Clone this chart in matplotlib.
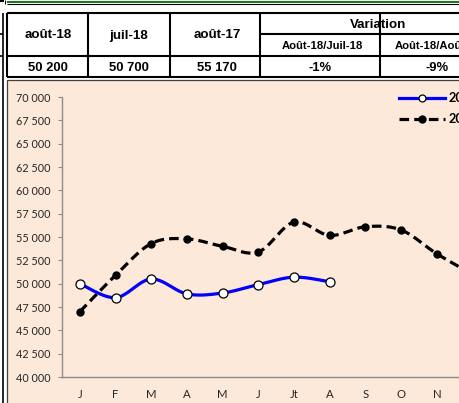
import numpy as np
import matplotlib
matplotlib.use("Agg")
import matplotlib.pyplot as plt
from matplotlib.lines import Line2D
from matplotlib.patches import Rectangle
from matplotlib.ticker import FuncFormatter, MultipleLocator

# Data
months = ['J', 'F', 'M', 'A', 'M', 'J', 'Jt', 'A', 'S', 'O', 'N', 'D']
v2018 = [50000, 48500, 50500, 48900, 49000, 49900, 50700, 50200]
v2017 = [47000, 50900, 54300, 54800, 54000, 53400, 56600, 55170, 56100, 55750, 53200, 51000]
labels = ['2018', '2017']

head_cols = ['août-18', 'juil-18', 'août-17']
head_var = 'Variation'
head_sub = ['Août-18/Juil-18', 'Août-18/Août-17']
row_vals = ['50 200', '50 700', '55 170', '-1%', '-9%']

W, H = 460, 403
fig = plt.figure(figsize=(W / 100, H / 100), dpi=100)
fig.patch.set_facecolor('white')


def px(x, y):
    # pixel position (from top-left) -> figure fraction
    return x / W, 1 - y / H


def hline(x0, x1, y, lw=1.5, color='black'):
    a, b = px(x0, y)
    c, _ = px(x1, y)
    fig.add_artist(Line2D([a, c], [b, b], lw=lw, color=color, transform=fig.transFigure,
                          solid_capstyle='butt'))


def vline(x, y0, y1, lw=1.5, color='black'):
    a, b = px(x, y0)
    _, d = px(x, y1)
    fig.add_artist(Line2D([a, a], [b, d], lw=lw, color=color, transform=fig.transFigure,
                          solid_capstyle='butt'))


# top band
hline(7, 470, 1.5, lw=1.3, color='#0a6a0a')
hline(7, 470, 3.5, lw=0.8)
hline(0, 4, 1, lw=1.5)
vline(5, 0, 4, lw=0.8)

# table grid
cols_x = [7, 88, 170, 260, 380]
hline(7, 470, 13)
hline(7, 470, 56)
hline(7, 470, 77)
hline(260, 470, 34)
for cx in cols_x:
    vline(cx, 13, 77)
vline(3, 13, 403, lw=1.2)
hline(0, 3, 34, lw=1.2)
hline(0, 3, 56, lw=1.2)

tfont = dict(family=['Liberation Sans', 'DejaVu Sans'], weight='bold', color='black')
centers = [48, 129, 217]
for cx, t in zip(centers, head_cols):
    fig.text(*px(cx, 38.5), t, ha='center', va='baseline', fontsize=9.6, **tfont)
fig.text(*px(378, 27.5), head_var, ha='center', va='baseline', fontsize=9.6, **tfont)
fig.text(*px(322, 49), head_sub[0], ha='center', va='baseline', fontsize=8.1, **tfont)
fig.text(*px(438, 49), head_sub[1], ha='center', va='baseline', fontsize=8.1, **tfont)
for cx, t in zip(centers + [320, 437], row_vals):
    fig.text(*px(cx, 71), t, ha='center', va='baseline', fontsize=9.4, **tfont)

# chart box
bx, by = px(7.5, 80.5)
fig.add_artist(Rectangle((bx, -0.05), 1.1, by + 0.05, transform=fig.transFigure,
                         facecolor='#FDE9D9', edgecolor='#404040', lw=0.9, zorder=-5))

# plot area
l, t = px(62, 97)
r, b = px(62 + 12 * 35.7, 377)
ax = fig.add_axes([l, b, r - l, t - b])
ax.set_facecolor('none')


def smooth(xs, ys, n=24):
    # Excel-like smoothed line (cubic Bezier through the points)
    P = np.column_stack([xs, ys]).astype(float)
    out = []
    for i in range(len(P) - 1):
        p0 = P[i - 1] if i > 0 else P[i]
        p1, p2 = P[i], P[i + 1]
        p3 = P[i + 2] if i + 2 < len(P) else P[i + 1]
        c1 = p1 + (p2 - p0) / 6
        c2 = p2 - (p3 - p1) / 6
        s = np.linspace(0, 1, n)[:, None]
        seg = (1 - s) ** 3 * p1 + 3 * (1 - s) ** 2 * s * c1 + 3 * (1 - s) * s ** 2 * c2 + s ** 3 * p2
        out.append(seg if i == 0 else seg[1:])
    out = np.vstack(out)
    return out[:, 0], out[:, 1]


x18 = np.arange(len(v2018))
x17 = np.arange(len(v2017))

sx, sy = smooth(x17, v2017)
ax.plot(sx, sy, color='black', lw=2.3, dashes=(3.0, 1.6), zorder=2)
ax.plot(x17, v2017, 'o', color='black', ms=5, zorder=3)
sx, sy = smooth(x18, v2018)
ax.plot(sx, sy, color='#0000FF', lw=2.3, zorder=4)
ax.plot(x18, v2018, 'o', mfc='white', mec='black', mew=0.9, ms=6.5, zorder=5)

h18 = Line2D([], [], color='#0000FF', lw=2.3, marker='o', mfc='white', mec='black', mew=0.9, ms=5)
h17 = Line2D([], [], color='black', lw=2.3, dashes=(3.0, 1.6), marker='o', mfc='black', ms=5)
fig.legend([h18, h17], labels, loc='upper left', bbox_to_anchor=px(399, 92), frameon=False,
           handlelength=3.6, handletextpad=0.3, labelspacing=0.72, borderpad=0, borderaxespad=0,
           prop=dict(family=['Lato', 'DejaVu Sans'], size=9.2, weight='bold'))

ax.set_xlim(-0.5, 11.5)
ax.set_ylim(40000, 70000)
ax.set_xticks(np.arange(len(months)))
ax.set_xticklabels(months)
ax.yaxis.set_major_locator(MultipleLocator(2500))
ax.yaxis.set_major_formatter(FuncFormatter(lambda v, p: f'{int(v):,}'.replace(',', ' ')))
for s in ['top', 'right']:
    ax.spines[s].set_visible(False)
for s in ['left', 'bottom']:
    ax.spines[s].set_color('#8c8c8c')
    ax.spines[s].set_linewidth(1.0)
ax.tick_params(axis='y', length=3, color='#8c8c8c', pad=5, labelsize=7.8, labelcolor='#262626')
ax.tick_params(axis='x', length=0, pad=9, labelsize=8.2, labelcolor='#262626')
for lab in ax.get_xticklabels() + ax.get_yticklabels():
    lab.set_family(['Lato', 'DejaVu Sans'])

fig.savefig('out.png', dpi=100)
